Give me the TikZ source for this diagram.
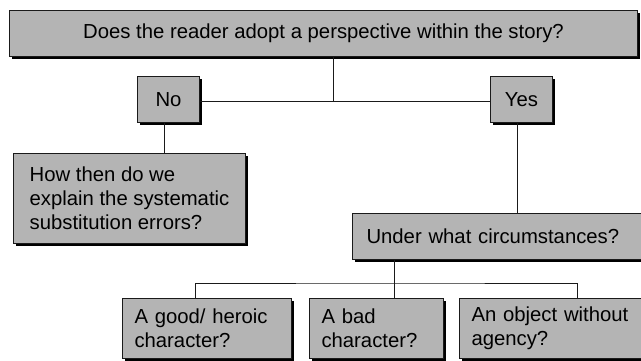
\documentclass[tikz,border=0pt]{standalone}
\usepackage{fontspec}
\setmainfont{Liberation Sans}
\usepackage{tikz}
\usetikzlibrary{positioning, shadows}
\definecolor{boxgray}{HTML}{B4B4B4}
\definecolor{boxline}{HTML}{1A1A1A}
\tikzset{
  qbox/.style={draw=boxline, fill=boxgray, line width=1pt, anchor=north west,
    inner xsep=14pt, inner ysep=0pt, align=left,
    drop shadow={shadow xshift=2.5pt, shadow yshift=-2.5pt, fill=black, opacity=1}},
  answer/.style={qbox, align=center, inner xsep=0pt},
  link/.style={draw=boxline, line width=1pt}
}

\begin{document}
\begin{tikzpicture}[x=1pt, y=-1pt, font=\fontsize{20.3}{24}\selectfont]
\useasboundingbox (0,0) rectangle (641,360);
% question and answers
\node[answer, minimum width=628pt, minimum height=46pt] (question) at (9,10) {Does the reader adopt a perspective within the story?};
\node[answer, minimum width=62pt, minimum height=46pt] (no) at (137,76) {No};
\node[answer, minimum width=62pt, minimum height=46pt] (yes) at (490,76) {Yes};
\node[qbox, inner xsep=0pt, minimum width=232pt, minimum height=90pt] (how) at (13,153) {How then do we\\explain the systematic\\substitution errors?};
\node[qbox, text width=267pt, minimum height=46pt] (under) at (352,213) {Under what circumstances?};
% circumstances
\node[qbox, text width=145pt, inner xsep=12pt, minimum height=60pt] (good) at (122,298) {A good/ heroic\\character?};
\node[qbox, text width=110pt, inner xsep=12pt, minimum height=60pt] (bad) at (309,298) {A bad\\character?};
\node[qbox, text width=166pt, inner xsep=12pt, minimum height=60pt] (object) at (459,298) {An object without\\agency?};

\coordinate (split) at (333,101);
\coordinate (fork) at (394,283);
\draw[link] (no.east |- split) -- (yes.west |- split);
\draw[link] (question.south -| split) -- (split);
\draw[link] ([xshift=-4pt]no.south) -- ([xshift=-4pt]no.south |- how.north);
\draw[link] ([xshift=-4pt]yes.south) -- ([xshift=-4pt]yes.south |- under.north);
\draw[link] (under.south -| fork) -- (fork |- bad.north);
\draw[link] ([xshift=73pt]good.north west) |- (fork) -| ([xshift=118pt]object.north west);
\end{tikzpicture}
\end{document}
